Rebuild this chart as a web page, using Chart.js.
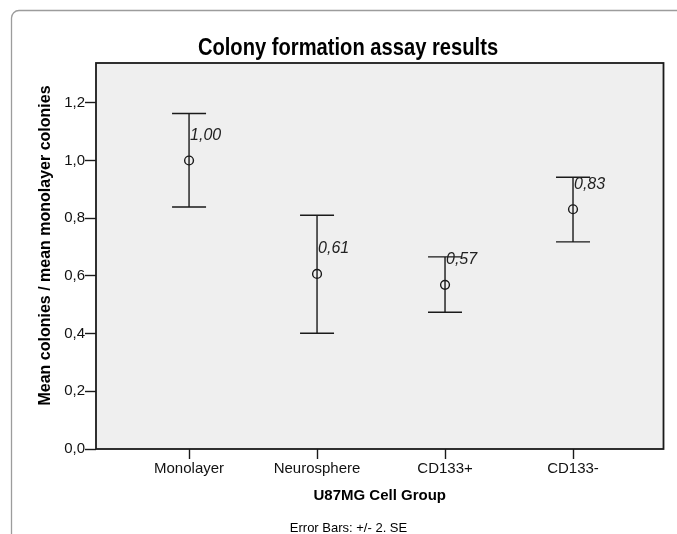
<!doctype html>

<html lang="en">
<head>
    <meta charset="utf-8">
    <title>Colony formation assay results</title>
    <style>
        html, body { margin: 0; padding: 0; background: #fff; }
    </style>
</head>

<body>
<canvas id="colonyChart" width="677" height="534"></canvas>
<script src="https://cdn.jsdelivr.net/npm/chart.js@4.4.1/dist/chart.umd.min.js"></script>

<script>
// values
const groups = ['Monolayer', 'Neurosphere', 'CD133+', 'CD133-'];
const means = [1.00, 0.607, 0.569, 0.831];
const upper = [1.163, 0.810, 0.666, 0.942];   // mean + 2 SE
const lower = [0.839, 0.401, 0.474, 0.718];   // mean - 2 SE

const chartTitle = 'Colony formation assay results';
const yTitle = 'Mean colonies / mean monolayer colonies';
const xTitle = 'U87MG Cell Group';
const footnote = 'Error Bars: +/- 2. SE';

const FONT = '"Liberation Sans", Arial, sans-serif';
const INK = '#1a1a1a';

function commaFmt(v, digits) {
    return v.toFixed(digits).replace('.', ',');
}

// gray page frame, plot background and box border
const framePlugin = {
    id: 'frame',
    beforeDraw(chart) {
        const ctx = chart.ctx;
        const a = chart.chartArea;
        ctx.save();
        ctx.fillStyle = '#ffffff';
        ctx.fillRect(0, 0, chart.width, chart.height);

        ctx.strokeStyle = '#9c9c9c';
        ctx.lineWidth = 1.3;
        ctx.beginPath();
        ctx.moveTo(11.5, chart.height + 2);
        ctx.lineTo(11.5, 18);
        ctx.arcTo(11.5, 10.5, 19, 10.5, 7.5);
        ctx.lineTo(chart.width + 2, 10.5);
        ctx.stroke();

        ctx.fillStyle = '#efefef';
        ctx.fillRect(a.left, a.top, a.right - a.left, a.bottom - a.top);
        ctx.restore();
    },
    afterDraw(chart) {
        const ctx = chart.ctx;
        const a = chart.chartArea;
        ctx.save();
        ctx.strokeStyle = INK;
        ctx.lineWidth = 1.8;
        ctx.strokeRect(a.left, a.top, a.right - a.left, a.bottom - a.top);

        ctx.fillStyle = '#000';
        ctx.textAlign = 'center';
        ctx.textBaseline = 'alphabetic';

        // SPSS uses a condensed face for the title, squeeze it a bit
        ctx.save();
        ctx.translate(348, 55);
        ctx.scale(0.84, 1);
        ctx.font = 'bold 24px ' + FONT;
        ctx.fillText(chartTitle, 0, 0);
        ctx.restore();

        ctx.font = '13px ' + FONT;
        ctx.fillText(footnote, 348.5, 532);

        ctx.translate(46, 245.5);
        ctx.rotate(-Math.PI / 2);
        ctx.textBaseline = 'middle';
        ctx.font = 'bold 16px ' + FONT;
        ctx.fillText(yTitle, 0, 0);
        ctx.restore();
    }
};

// error bars with caps, and the italic mean labels
const errorBarPlugin = {
    id: 'errorBars',
    afterDatasetsDraw(chart) {
        const ctx = chart.ctx;
        const xs = chart.scales.x;
        const ys = chart.scales.y;
        ctx.save();
        ctx.strokeStyle = INK;
        ctx.lineWidth = 1.4;
        for (let i = 0; i < groups.length; i++) {
            const x = xs.getPixelForValue(i);
            const yHi = ys.getPixelForValue(upper[i]);
            const yLo = ys.getPixelForValue(lower[i]);
            ctx.beginPath();
            ctx.moveTo(x, yHi);
            ctx.lineTo(x, yLo);
            ctx.moveTo(x - 17, yHi);
            ctx.lineTo(x + 17, yHi);
            ctx.moveTo(x - 17, yLo);
            ctx.lineTo(x + 17, yLo);
            ctx.stroke();

            ctx.fillStyle = '#222';
            ctx.font = 'italic 16px ' + FONT;
            ctx.textAlign = 'left';
            ctx.textBaseline = 'middle';
            ctx.fillText(commaFmt(means[i], 2), x + 1, ys.getPixelForValue(means[i]) - 25);
        }
        ctx.restore();
    }
};

const ctx = document.getElementById('colonyChart').getContext('2d');
const chart = new Chart(ctx, {
    type: 'scatter',
    data: {
        datasets: [{
            label: 'Mean',
            data: means.map((m, i) => ({ x: i, y: m })),
            pointRadius: 4.4,
            pointHoverRadius: 4.4,
            pointBorderWidth: 1.4,
            pointBorderColor: INK,
            pointBackgroundColor: 'rgba(0,0,0,0)'
        }]
    },
    options: {
        responsive: false,
        animation: false,
        layout: {
            padding: { left: 32, right: 13.5, top: 63, bottom: 25 }
        },
        plugins: {
            legend: { display: false },
            tooltip: { enabled: false }
        },
        scales: {
            x: {
                type: 'linear',
                min: -0.727,
                max: 3.707,
                afterBuildTicks(scale) {
                    scale.ticks = groups.map((g, i) => ({ value: i }));
                },
                afterFit(scale) {
                    scale.height = 60;
                },
                grid: {
                    drawOnChartArea: false,
                    tickLength: 10,
                    tickColor: INK,
                    tickWidth: 1.4
                },
                border: { display: false },
                ticks: {
                    padding: 1,
                    maxRotation: 0,
                    autoSkip: false,
                    color: '#111',
                    font: { family: FONT, size: 15 },
                    callback: (v) => groups[v]
                },
                title: {
                    display: true,
                    text: xTitle,
                    color: '#000',
                    font: { family: FONT, size: 15, weight: 'bold' },
                    padding: { top: 0, bottom: 4 }
                }
            },
            y: {
                min: 0,
                max: 1.338,
                afterFit(scale) {
                    scale.width = 64;
                },
                grid: {
                    drawOnChartArea: false,
                    tickLength: 11,
                    tickColor: INK,
                    tickWidth: 1.4
                },
                border: { display: false },
                ticks: {
                    stepSize: 0.2,
                    includeBounds: false,
                    padding: 0,
                    color: '#111',
                    font: { family: FONT, size: 15 },
                    callback: (v) => commaFmt(v, 1)
                }
            }
        }
    },
    plugins: [framePlugin, errorBarPlugin]
});
</script>
</body>
</html>
